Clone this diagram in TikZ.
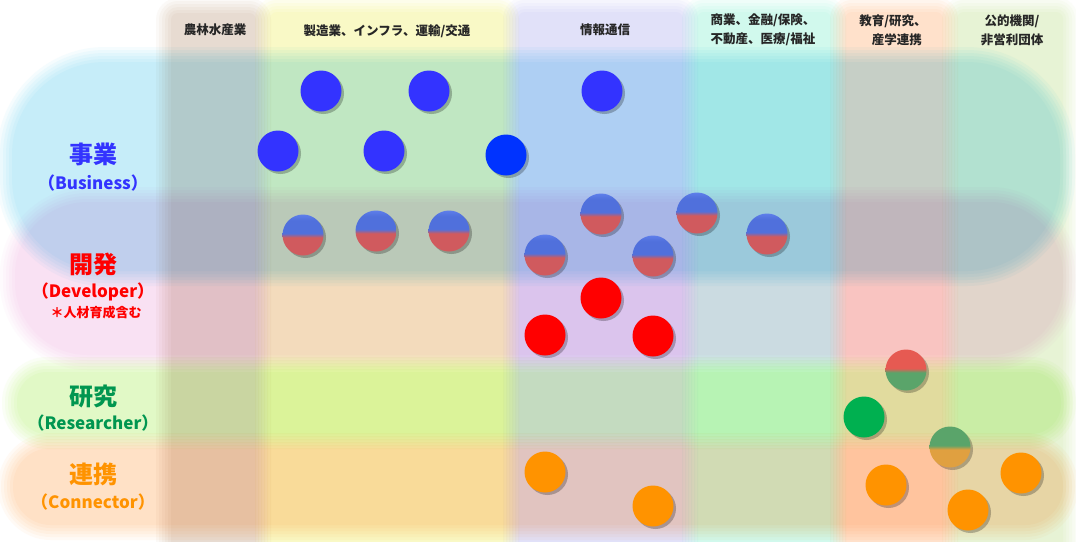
\documentclass[tikz,border=0pt]{standalone}
\usepackage{fontspec}
\setmainfont{Noto Sans CJK JP}
\usetikzlibrary{shadows}

\definecolor{bus}{HTML}{C4ECF8}
\definecolor{dev}{HTML}{FCE2F4}
\definecolor{res}{HTML}{E0FCC6}
\definecolor{con}{HTML}{FDE2C4}
\definecolor{colA}{HTML}{EADCD2}
\definecolor{colB}{HTML}{FCFCC4}
\definecolor{colC}{HTML}{E0E0FC}
\definecolor{colD}{HTML}{D2FCEE}
\definecolor{colE}{HTML}{FDE4CC}
\definecolor{colF}{HTML}{E8F6D8}

\definecolor{cBlue}{HTML}{3333FF}
\definecolor{cBlue2}{HTML}{0033FF}
\definecolor{cRed}{HTML}{FF0000}
\definecolor{cGreen}{HTML}{00B050}
\definecolor{cOrange}{HTML}{FF9300}
\definecolor{tBlue}{HTML}{3333FF}
\definecolor{tRed}{HTML}{FF0000}
\definecolor{tGreen}{HTML}{009650}
\definecolor{tOrange}{HTML}{FF9300}

\definecolor{shB}{HTML}{5070DC}
\definecolor{shBt}{HTML}{5E7EEA}
\definecolor{shR}{HTML}{D05A5E}
\definecolor{shRt}{HTML}{E65A52}
\definecolor{shG}{HTML}{5AA46A}
\definecolor{shO}{HTML}{E0A040}

\pgfdeclareverticalshading{blred}{100bp}{color(0bp)=(shR); color(47bp)=(shR); color(52bp)=(shB); color(68bp)=(shB); color(75bp)=(shBt); color(100bp)=(shBt)}
\pgfdeclareverticalshading{redgrn}{100bp}{color(0bp)=(shG); color(47bp)=(shG); color(52bp)=(shRt); color(100bp)=(shRt)}
\pgfdeclareverticalshading{grnorg}{100bp}{color(0bp)=(shO); color(47bp)=(shO); color(52bp)=(shG); color(100bp)=(shG)}

\newcommand{\softrect}[6]{%
  \foreach \d in {-8,-5,-2,1,4,7}{%
    \pgfmathsetmacro\rr{max(#6-\d,0.5)}%
    \fill[#1!17!white, rounded corners=\rr pt] (#2+\d,#3+\d) rectangle (#4-\d,#5-\d);}}

\tikzset{
  dot/.style={circle, minimum size=41pt, inner sep=0pt,
    drop shadow={shadow xshift=2.5pt, shadow yshift=-2.5pt, opacity=0.25, fill=black}},
  bdot/.style={dot, fill=cBlue},
  bdotb/.style={dot, fill=cBlue2},
  rdot/.style={dot, fill=cRed},
  gdot/.style={dot, fill=cGreen},
  odot/.style={dot, fill=cOrange},
  brdot/.style={dot, shading=blred},
  rgdot/.style={dot, shading=redgrn},
  godot/.style={dot, shading=grnorg},
  head/.style={font=\fontsize{12.5}{19}\selectfont\bfseries, text=black!85, align=center, inner sep=0pt},
  big/.style={font=\fontsize{24}{26}\selectfont\bfseries, inner sep=0pt},
  mid/.style={font=\fontsize{17}{20}\selectfont\bfseries, inner sep=0pt},
  small/.style={font=\fontsize{13}{16}\selectfont\bfseries, inner sep=0pt},
}

\begin{document}
\begin{tikzpicture}[x=1pt,y=-1pt]
\useasboundingbox (0,0) rectangle (1076,541);
\fill[white] (0,0) rectangle (1076,541);

\begin{scope}[blend mode=multiply]
  % row bands
  \softrect{bus}{5}{55}{1067}{278}{100}
  \softrect{dev}{8}{195}{1070}{362}{80}
  \softrect{res}{10}{365}{1068}{441}{37}
  \softrect{con}{6}{441}{1070}{532}{45}
  % column bands
  \softrect{colA}{164}{6}{263}{565}{14}
  \softrect{colB}{263}{5}{511}{565}{14}
  \softrect{colC}{511}{5}{690}{565}{14}
  \softrect{colD}{690}{5}{838}{565}{14}
  \softrect{colE}{838}{5}{950}{565}{14}
  \softrect{colF}{950}{5}{1070}{565}{14}
\end{scope}

% column headers
\node[head] (h1) at (215,30) {農林水産業};
\node[head] (h2) at (387,31) {製造業、インフラ、運輸/交通};
\node[head] (h3) at (605,30) {情報通信};
\node[head] (h4) at (763,30) {商業、金融/保険、\\不動産、医療/福祉};
\node[head] (h5) at (893,30) {教育/研究、\\\hspace*{0.6em}産学連携};
\node[head] (h6) at (1012,30) {公的機関/\\非営利団体};

% row labels
\node[big, text=tBlue] (l1) at (93,154) {事業};
\node[mid, text=tBlue] (l1e) at (93,183) {（Business）};
\node[big, text=tRed] (l2) at (93,264) {開発};
\node[mid, text=tRed] (l2e) at (93,292) {（Developer）};
\node[small, text=tRed] (l2n) at (96,313) {＊人材育成含む};
\node[big, text=tGreen] (l3) at (93,396) {研究};
\node[mid, text=tGreen] (l3e) at (93,423) {（Researcher）};
\node[big, text=tOrange] (l4) at (93,474) {連携};
\node[mid, text=tOrange] (l4e) at (93,502) {（Connector）};

% business
\node[bdot] (b1) at (321,91) {};
\node[bdot] (b2) at (429,91) {};
\node[bdot] (b3) at (602,91) {};
\node[bdot] (b4) at (278,151) {};
\node[bdot] (b5) at (384,151) {};
\node[bdotb] (b6) at (506,155) {};

% business/developer
\node[brdot] (m1) at (303,235) {};
\node[brdot] (m2) at (376,231) {};
\node[brdot] (m3) at (449,231) {};
\node[brdot] (m4) at (601,214) {};
\node[brdot] (m5) at (697,213) {};
\node[brdot] (m6) at (767,234) {};
\node[brdot] (m7) at (545,255) {};
\node[brdot] (m8) at (653,256) {};

% developer
\node[rdot] (d1) at (601,298) {};
\node[rdot] (d2) at (545,335) {};
\node[rdot] (d3) at (653,336) {};

% researcher
\node[rgdot] (r1) at (906,370) {};
\node[gdot] (r2) at (864,417) {};
\node[godot] (r3) at (950,447) {};

% connector
\node[odot] (o1) at (545,472) {};
\node[odot] (o2) at (653,506) {};
\node[odot] (o3) at (886,485) {};
\node[odot] (o4) at (1021,473) {};
\node[odot] (o5) at (968,510) {};
\end{tikzpicture}
\end{document}
